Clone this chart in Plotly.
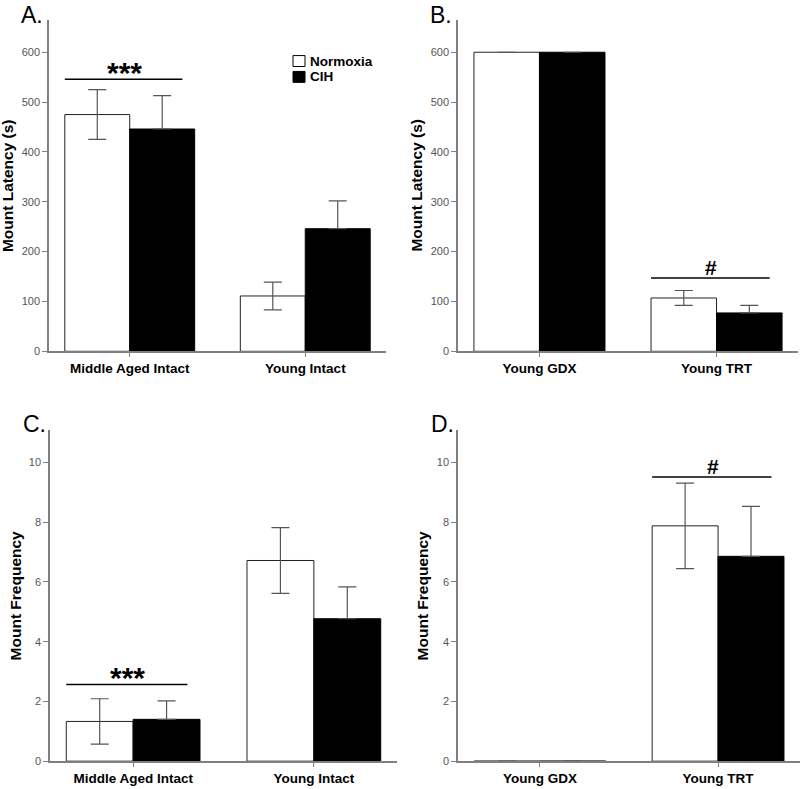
import plotly.graph_objects as go

# ---------------- data ----------------
groups_A = ["Middle Aged Intact", "Young Intact"]
groups_B = ["Young GDX", "Young TRT"]

latA_norm = [475, 111]
latA_norm_err = [50, 28]
latA_cih = [446, 246]
latA_cih_err = [67, 56]

latB_norm = [600, 107]
latB_norm_err = [0, 15]
latB_cih = [600, 77]
latB_cih_err = [0, 15]

freqC_norm = [1.33, 6.72]
freqC_norm_err = [0.76, 1.10]
freqC_cih = [1.40, 4.77]
freqC_cih_err = [0.62, 1.07]

freqD_norm = [0, 7.88]
freqD_norm_err = [0, 1.43]
freqD_cih = [0, 6.86]
freqD_cih_err = [0, 1.67]

series_names = ["Normoxia", "CIH"]
panel_letters = ["A.", "B.", "C.", "D."]
y_titles = ["Mount Latency (s)", "Mount Latency (s)", "Mount Frequency", "Mount Frequency"]
sig_text = ["***", "#", "***", "#"]
sig_group = [0, 1, 0, 1]
sig_y = [546, 147, 2.57, 9.52]

W, H = 800, 789
def px(x):
    return x / W
def py(y):
    return 1 - y / H

panels = [
    dict(cats=groups_A, n=latA_norm, ne=latA_norm_err, c=latA_cih, ce=latA_cih_err,
         xd=[px(49), px(386)], yd=[py(354), py(20)], yr=[0, 665], dt=100, ax="", ),
    dict(cats=groups_B, n=latB_norm, ne=latB_norm_err, c=latB_cih, ce=latB_cih_err,
         xd=[px(458), px(798)], yd=[py(354), py(20)], yr=[0, 665], dt=100, ax="2"),
    dict(cats=groups_A, n=freqC_norm, ne=freqC_norm_err, c=freqC_cih, ce=freqC_cih_err,
         xd=[px(50), px(397)], yd=[py(767), py(433)], yr=[0, 11.1], dt=2, ax="3"),
    dict(cats=groups_B, n=freqD_norm, ne=freqD_norm_err, c=freqD_cih, ce=freqD_cih_err,
         xd=[px(458), px(800)], yd=[py(767), py(433)], yr=[0, 11.1], dt=2, ax="4"),
]

AXC = "#808080"
ERRC = "#555555"
fig = go.Figure()
layout = {}
annotations = []
shapes = []

ytitle_x = [7.5, 417, 15, 422]
letter_xy = [(19, 0), (428, 0), (21, 412), (429, 412)]

for i, p in enumerate(panels):
    xa, ya = "x" + p["ax"], "y" + p["ax"]
    fig.add_trace(go.Bar(
        x=list(range(len(p["cats"]))), y=p["n"], name=series_names[0],
        xaxis=xa, yaxis=ya, showlegend=False,
        marker=dict(color="white", line=dict(color="#222", width=1)),
        error_y=dict(type="data", array=p["ne"], color=ERRC, thickness=1.2, width=9),
    ))
    fig.add_trace(go.Bar(
        x=list(range(len(p["cats"]))), y=p["c"], name=series_names[1],
        xaxis=xa, yaxis=ya, showlegend=False,
        marker=dict(color="black", line=dict(color="black", width=1)),
        error_y=dict(type="data", symmetric=False, array=p["ce"],
                     arrayminus=[0] * len(p["ce"]), color=ERRC, thickness=1.2, width=9),
    ))
    layout["xaxis" + p["ax"]] = dict(
        domain=p["xd"], anchor=ya, range=[-0.46, 1.46],
        tickmode="array", tickvals=list(range(len(p["cats"]))), ticktext=p["cats"],
        showline=True, linecolor=AXC, linewidth=1.5, ticks="outside", ticklen=4,
        tickcolor=AXC, showgrid=False, zeroline=False,
        tickfont=dict(family="Arial", size=13.5, color="black", weight="bold"),
    )
    layout["yaxis" + p["ax"]] = dict(
        domain=p["yd"], anchor=xa, range=p["yr"], dtick=p["dt"], tick0=0,
        showline=True, linecolor=AXC, linewidth=1.5, ticks="outside", ticklen=5,
        tickcolor=AXC, showgrid=False, zeroline=False,
        tickfont=dict(family="Arial", size=11, color="#555"),
    )
    # y title
    annotations.append(dict(
        text=y_titles[i], textangle=-90, xref="paper", yref="paper",
        x=px(ytitle_x[i]), y=(p["yd"][0] + p["yd"][1]) / 2,
        xanchor="center", yanchor="middle", showarrow=False,
        font=dict(family="Arial", size=15.5, color="black", weight="bold"),
    ))
    # panel letter
    lx, ly = letter_xy[i]
    annotations.append(dict(
        text=panel_letters[i], xref="paper", yref="paper", x=px(lx), y=py(ly),
        xanchor="left", yanchor="top", showarrow=False,
        font=dict(family="Arial", size=23, color="black"),
    ))
    # significance line and marker
    g = sig_group[i]
    is_star = sig_text[i] == "***"
    shapes.append(dict(type="line", xref=xa, yref=ya, x0=g - 0.37, x1=g + 0.30,
                       y0=sig_y[i], y1=sig_y[i], line=dict(color="black", width=1.5)))
    annotations.append(dict(
        text=sig_text[i], xref=xa, yref=ya, x=g - 0.03, y=sig_y[i],
        xanchor="center", yanchor="bottom", showarrow=False,
        yshift=-12 if is_star else -3,
        font=dict(family="Arial", size=30 if is_star else 21,
                  color="black", weight="bold"),
    ))

# custom legend (panel A)
leg_fill = ["white", "black"]
leg_y = [61.5, 77.5]
for name, fill, ly in zip(series_names, leg_fill, leg_y):
    shapes.append(dict(type="rect", xref="paper", yref="paper",
                       x0=px(293), x1=px(305), y0=py(ly + 5.5), y1=py(ly - 5.5),
                       fillcolor=fill, line=dict(color="black", width=1)))
    annotations.append(dict(
        text=name, xref="paper", yref="paper", x=px(308), y=py(ly),
        xanchor="left", yanchor="middle", showarrow=False,
        font=dict(family="Arial", size=13.5, color="black", weight="bold"),
    ))

fig.update_layout(
    width=W, height=H, margin=dict(l=0, r=0, t=0, b=0),
    paper_bgcolor="white", plot_bgcolor="white",
    barmode="group", bargap=0.26, bargroupgap=0,
    annotations=annotations, shapes=shapes, showlegend=False,
    **layout,
)

fig.write_html("out.html", config={"displayModeBar": False},
               post_script="document.body.style.margin='0px';document.body.style.overflow='hidden';")
